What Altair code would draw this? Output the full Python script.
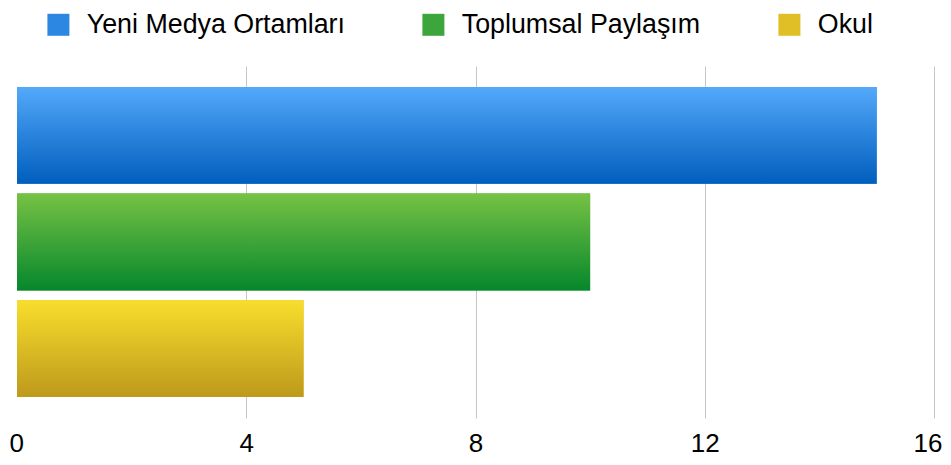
import altair as alt
import pandas as pd

categories = ["Yeni Medya Ortamları", "Toplumsal Paylaşım", "Okul"]
values = [15, 10, 5]
tick_values = [0, 4, 8, 12, 16]
solid_colors = ["#2c87e2", "#3ca53c", "#e0bf26"]
gradient_tops = ["#54a9fa", "#76c244", "#f8de2c"]
gradient_bottoms = ["#005ebd", "#06872c", "#be991c"]

df = pd.DataFrame({"cat": categories, "val": values})

FONT = "Liberation Sans"


def grad(top, bottom):
    return {
        "gradient": "linear",
        "x1": 0, "y1": 0, "x2": 0, "y2": 1,
        "stops": [{"offset": 0, "color": top}, {"offset": 1, "color": bottom}],
    }


x_enc = alt.X(
    "val:Q",
    scale=alt.Scale(domain=[0, 16], nice=False),
    axis=alt.Axis(
        values=tick_values,
        format="d",
        title=None,
        domain=False,
        ticks=False,
        tickSize=0,
        labelFlush=True,
        labelFlushOffset=8,
        labelFontSize=26,
        labelFont=FONT,
        labelColor="#000000",
        labelBaseline="alphabetic",
        labelPadding=33,
        gridColor="#c6c6c6",
        gridWidth=1,
        gridOpacity={"condition": {"test": "datum.value == 0", "value": 0}, "value": 1},
    ),
)
y_enc = alt.Y(
    "cat:N",
    sort=categories,
    scale=alt.Scale(paddingInner=0.093, paddingOuter=0.196),
    axis=None,
)

base_bars = alt.Chart(df).mark_bar().encode(
    x=x_enc,
    y=y_enc,
    fill=alt.Fill(
        "cat:N",
        sort=categories,
        scale=alt.Scale(domain=categories, range=solid_colors),
        legend=alt.Legend(
            title=None,
            orient="none",
            direction="horizontal",
            legendX=28,
            legendY=-55,
            symbolType="square",
            symbolSize=484,
            symbolStrokeWidth=0,
            labelFontSize=26.8,
            labelFont=FONT,
            labelColor="#000000",
            labelOffset=15,
            columnPadding=75,
            labelLimit=400,
        ),
    ),
)

conds = [
    {"test": f"datum.cat == '{c}'", "value": grad(t, b)}
    for c, t, b in zip(categories[:-1], gradient_tops[:-1], gradient_bottoms[:-1])
]
grad_bars = alt.Chart(df).mark_bar().encode(
    x=alt.X("val:Q"),
    y=alt.Y("cat:N", sort=categories),
    fill={"condition": conds, "value": grad(gradient_tops[-1], gradient_bottoms[-1])},
)

chart = (
    alt.layer(base_bars, grad_bars)
    .properties(
        width=917,
        height=352,
        autosize=alt.AutoSizeParams(type="none"),
        padding={"left": 9, "top": 58, "right": 9, "bottom": 39},
    )
    .configure_view(stroke=None)
    .configure_axis(grid=True)
)

chart.save("out.html", embed_options={"renderer": "svg", "actions": False})
